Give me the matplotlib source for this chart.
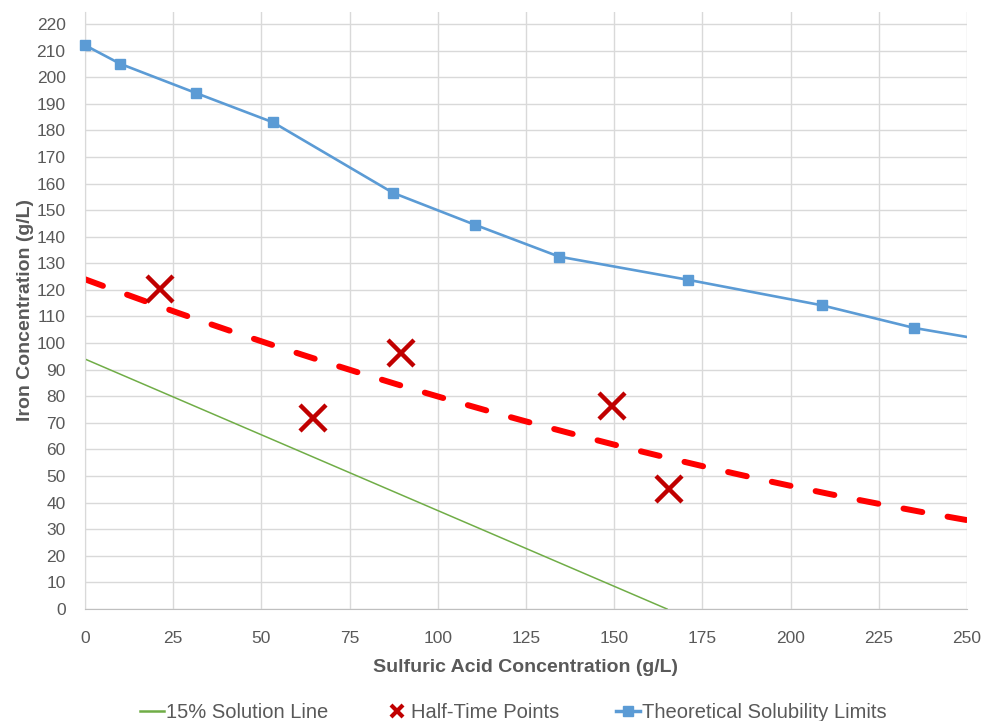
import numpy as np
import matplotlib
matplotlib.use("Agg")
import matplotlib.pyplot as plt
from matplotlib.lines import Line2D

plt.rcParams['font.family'] = ['Liberation Sans', 'DejaVu Sans']

# theoretical solubility limits (blue squares)
sol_x = [0, 10, 31.5, 53.3, 87.3, 110.5, 134.4, 170.9, 208.9, 235, 265]
sol_y = [212, 205, 194, 183, 156.5, 144.5, 132.5, 123.8, 114.2, 105.7, 98.9]

# half-time points (red crosses)
half_x = [21.3, 64.6, 89.6, 149.4, 165.5]
half_y = [120.5, 71.8, 96.3, 76.3, 45.1]

# 15% solution line (green)
line15_x = [0, 165]
line15_y = [94, 0]

# trendline through half-time points, 2nd order polynomial (c0, c1, c2)
trend_coef = [124.0, -0.493, 0.000523]

x_ticks = np.arange(0, 251, 25)
y_ticks = np.arange(0, 221, 10)
x_max, y_max = 250, 224.5

fig = plt.figure(figsize=(9.87, 7.21), dpi=100)
ax = fig.add_axes([0.0861, 0.1553, 0.8936, 0.8281])

grid_c = '#D9D9D9'
ax.set_xticks(x_ticks)
ax.set_yticks(y_ticks)
ax.grid(True, color=grid_c, linewidth=1.0)
ax.set_axisbelow(True)
for s in ['top', 'right']:
    ax.spines[s].set_visible(False)
ax.spines['left'].set_color(grid_c)
ax.spines['bottom'].set_color('#BFBFBF')
ax.tick_params(length=0, labelsize=12.5, labelcolor='#595959')
ax.tick_params(axis='x', pad=16)
ax.tick_params(axis='y', pad=14)

ax.plot(line15_x, line15_y, color='#70AD47', linewidth=1.1)

tx = np.linspace(0, x_max, 200)
ty = trend_coef[0] + trend_coef[1] * tx + trend_coef[2] * tx ** 2
ax.plot(tx, ty, color='#FF0000', linewidth=4.3, linestyle=(0, (3.2, 4.3)),
        dash_capstyle='round')

ax.plot(half_x, half_y, linestyle='none', marker='x', markersize=19,
        markeredgewidth=3.2, color='#C00000')

# line clipped at the axes edge, markers only for points inside the range
ax.plot(sol_x, sol_y, color='#5B9BD5', linewidth=1.9)
inside = [i for i, v in enumerate(sol_x) if v <= x_max]
ax.plot([sol_x[i] for i in inside], [sol_y[i] for i in inside], linestyle='none',
        marker='s', markersize=7.5, color='#5B9BD5', clip_on=False, zorder=3)

ax.set_xlim(0, x_max)
ax.set_ylim(0, y_max)

ax.set_xlabel('Sulfuric Acid Concentration (g/L)', fontsize=14, fontweight='bold',
              color='#595959', labelpad=9)
ax.set_ylabel('Iron Concentration (g/L)', fontsize=14, fontweight='bold',
              color='#595959', labelpad=2)

handles = [
    Line2D([], [], color='#70AD47', linewidth=1.8),
    Line2D([], [], color='#C00000', linestyle='none', marker='x', markersize=9,
           markeredgewidth=3),
    Line2D([], [], color='#5B9BD5', linewidth=2.5, marker='s', markersize=7),
]
labels = ['15% Solution Line', 'Half-Time Points', 'Theoretical Solubility Limits']
fig.legend(handles, labels, loc='center', bbox_to_anchor=(0.52, 0.012), ncol=3,
           frameon=False, fontsize=14.5, handlelength=1.2, handletextpad=0.1,
           columnspacing=2.8, labelcolor='#595959')

fig.savefig('out.png', dpi=100)
